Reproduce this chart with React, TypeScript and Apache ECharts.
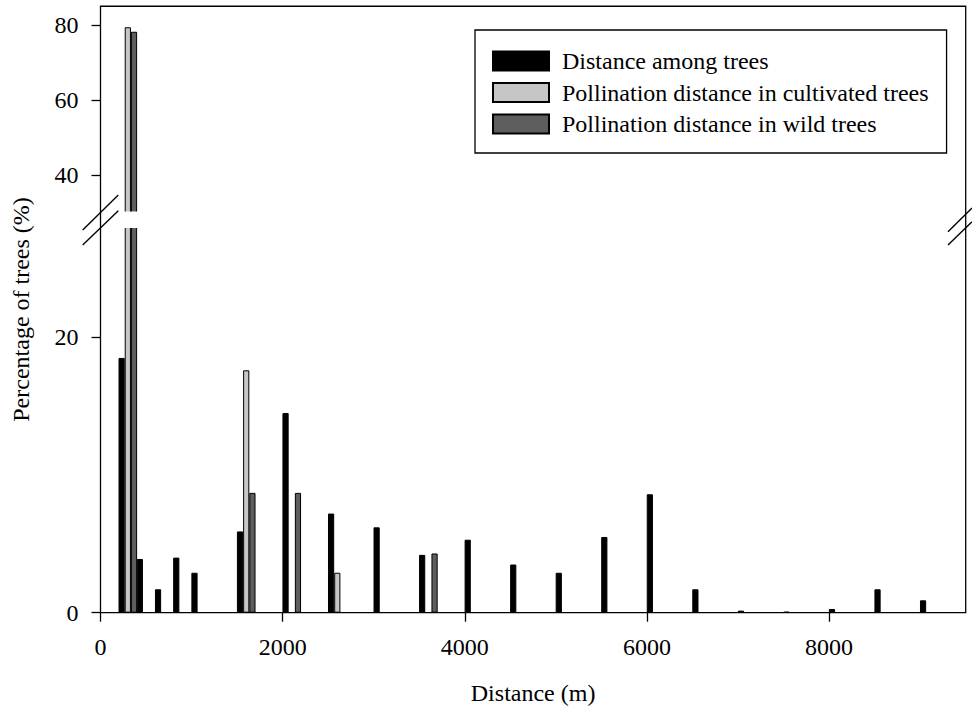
import { useEffect, useRef } from "react";
import * as echarts from "echarts";

// Group centre of each distance class (m)
const distances = [300, 500, 700, 900, 1100, 1600, 2100, 2600, 3100, 3600, 4100, 4600, 5100, 5600, 6100, 6600, 7100, 7600, 8100, 8600, 9100];
// Percentage of trees
const amongTrees = [18.5, 3.9, 1.7, 4.0, 2.9, 5.9, 14.5, 7.2, 6.2, 4.2, 5.3, 3.5, 2.9, 5.5, 8.6, 1.7, 0.15, 0.07, 0.27, 1.7, 0.9];
const cultivated = [79.4, 0, 0, 0, 0, 17.6, 0, 2.9, 0, 0, 0, 0, 0, 0, 0, 0, 0, 0, 0, 0, 0];
const wild = [78.2, 0, 0, 0, 0, 8.7, 8.7, 0, 0, 4.3, 0, 0, 0, 0, 0, 0, 0, 0, 0, 0, 0];

const seriesNames = [
  "Distance among trees",
  "Pollination distance in cultivated trees",
  "Pollination distance in wild trees",
];
const seriesColors = ["#000000", "#c6c6c6", "#5e5e5e"];
const seriesValues = [amongTrees, cultivated, wild];

const xTicks = [0, 2000, 4000, 6000, 8000];
const yTicksLower = [0, 20];
const yTicksUpper = [40, 60, 80];

const FONT = "'Liberation Serif', 'Times New Roman', serif";

// layout (px)
const W = 972;
const H = 708;
const PL = 100.5;
const PR = 965.7;
const UP_TOP = 6.25;
const UP_BOTTOM = 212.5;
const LOW_TOP = 227.1;
const LOW_BOTTOM = 612.7;

export default function App() {
  const ref = useRef<HTMLDivElement>(null);
  useEffect(() => {
    if (!ref.current) return;
    const chart = echarts.init(ref.current, null, { renderer: "svg" });

    const axisLabel = (vals: number[]) => ({
      customValues: vals,
      fontSize: 24,
      fontFamily: FONT,
      color: "#000",
      margin: 22,
      formatter: (v: number) => String(v),
    });
    const axisTick = (vals: number[]) => ({
      show: true,
      customValues: vals,
      length: 9,
      inside: false,
      lineStyle: { color: "#000", width: 1.3 },
    });

    const series: any[] = [];
    seriesValues.forEach((vals, si) => {
      const data = distances.map((d, i) => [d, vals[i] > 0 ? vals[i] : "-"]);
      [0, 1].forEach((g) => {
        series.push({
          type: "bar",
          name: seriesNames[si],
          xAxisIndex: g,
          yAxisIndex: g,
          data,
          barWidth: 6.2,
          barGap: "0%",
          clip: true,
          itemStyle: { color: seriesColors[si], borderColor: "#000", borderWidth: 1 },
          emphasis: { disabled: true },
        });
      });
    });

    chart.setOption({
      animation: false,
      backgroundColor: "#fff",
      grid: [
        { left: PL, right: W - PR, top: UP_TOP, bottom: H - UP_BOTTOM, containLabel: false, outerBoundsMode: "none" },
        { left: PL, right: W - PR, top: LOW_TOP, bottom: H - LOW_BOTTOM, containLabel: false, outerBoundsMode: "none" },
      ],
      xAxis: [
        { gridIndex: 0, type: "value", min: 0, max: 9500, show: false, splitLine: { show: false } },
        {
          gridIndex: 1,
          type: "value",
          min: 0,
          max: 9500,
          axisLine: { show: false },
          axisTick: axisTick(xTicks),
          axisLabel: axisLabel(xTicks),
          splitLine: { show: false },
          name: "Distance (m)",
          nameLocation: "middle",
          nameGap: 68,
          nameTextStyle: { fontSize: 24, fontFamily: FONT, color: "#000" },
        },
      ],
      yAxis: [
        {
          gridIndex: 0,
          type: "value",
          min: 30,
          max: 85,
          axisLine: { show: false },
          axisTick: axisTick(yTicksUpper),
          axisLabel: axisLabel(yTicksUpper),
          splitLine: { show: false },
        },
        {
          gridIndex: 1,
          type: "value",
          min: 0,
          max: 28,
          axisLine: { show: false },
          axisTick: axisTick(yTicksLower),
          axisLabel: axisLabel(yTicksLower),
          splitLine: { show: false },
        },
      ],
      legend: {
        orient: "vertical",
        left: 475,
        top: 30,
        padding: [19, 18, 17, 17],
        itemWidth: 56,
        itemHeight: 19,
        itemGap: 7.5,
        borderColor: "#000",
        borderWidth: 1.3,
        backgroundColor: "#fff",
        selectedMode: false,
        textStyle: { fontSize: 24, fontFamily: FONT, color: "#000", padding: [0, 0, 0, 8] },
        data: seriesNames.map((n) => ({ name: n, icon: "rect" })),
      },
      graphic: [
        {
          type: "rect",
          z: 90,
          silent: true,
          shape: { x: PL + 1.5, y: UP_BOTTOM - 1, width: PR - PL - 3, height: LOW_TOP - UP_BOTTOM + 2 },
          style: { fill: "#fff", stroke: "none" },
        },
        {
          type: "rect",
          z: 100,
          silent: true,
          shape: { x: PL, y: UP_TOP, width: PR - PL, height: LOW_BOTTOM - UP_TOP },
          style: { fill: "none", stroke: "#000", lineWidth: 1.3 },
        },
        { type: "line", z: 100, silent: true, shape: { x1: 82.7, y1: 230, x2: 118.3, y2: 195 }, style: { stroke: "#000", lineWidth: 1.4 } },
        { type: "line", z: 100, silent: true, shape: { x1: 82.7, y1: 245, x2: 118.3, y2: 210.7 }, style: { stroke: "#000", lineWidth: 1.4 } },
        { type: "line", z: 100, silent: true, shape: { x1: 948, y1: 231.7, x2: 972, y2: 208 }, style: { stroke: "#000", lineWidth: 1.4 } },
        { type: "line", z: 100, silent: true, shape: { x1: 948, y1: 245, x2: 972, y2: 221.7 }, style: { stroke: "#000", lineWidth: 1.4 } },
        {
          type: "text",
          z: 100,
          silent: true,
          x: 21,
          y: (UP_TOP + LOW_BOTTOM) / 2,
          rotation: Math.PI / 2,
          style: {
            text: "Percentage of trees (%)",
            fontSize: 24,
            fontFamily: FONT,
            fill: "#000",
            align: "center",
            verticalAlign: "middle",
            textAlign: "center",
            textVerticalAlign: "middle",
          },
        },
      ],
      series,
    });

    return () => chart.dispose();
  }, []);

  return <div ref={ref} style={{ position: "fixed", left: 0, top: 0, width: W, height: H }} />;
}
